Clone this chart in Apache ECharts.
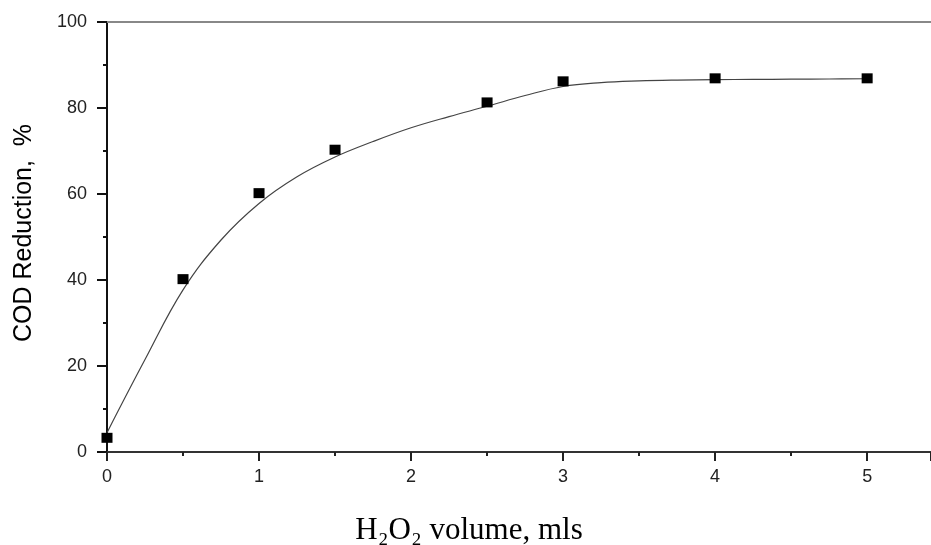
<!DOCTYPE html>
<html>
<head>
<meta charset="utf-8">
<script src="https://cdn.jsdelivr.net/npm/echarts@6/dist/echarts.min.js"></script>
<style>
html,body{margin:0;padding:0;background:#fff;}
#chart{width:931px;height:545px;}
</style>
</head>
<body>
<div id="chart"></div>
<script>
// Measured points
var pointX = [0, 0.5, 1, 1.5, 2.5, 3, 4, 5];
var pointY = [3.3, 40.2, 60.2, 70.3, 81.3, 86.2, 86.9, 86.9];
// Fitted curve
var fitX = [0, 0.25, 0.5, 0.75, 1, 1.25, 1.5, 1.75, 2, 2.25, 2.5, 2.75, 3, 3.25, 3.5, 3.75, 4, 4.25, 4.5, 4.75, 5];
var fitY = [4.5, 21.5, 37.7, 49.3, 57.8, 64.0, 68.6, 72.2, 75.4, 78.0, 80.4, 82.9, 85.0, 85.9, 86.3, 86.5, 86.6, 86.65, 86.7, 86.75, 86.8];
// Axis ticks
var xTicks = [0, 1, 2, 3, 4, 5];
var yTicks = [0, 20, 40, 60, 80, 100];

var xTitle = 'H\u2082O\u2082 volume, mls';
var yTitle = 'COD Reduction,  %';

function pairs(xs, ys) {
  return xs.map(function (x, i) { return [x, ys[i]]; });
}

var chart = echarts.init(document.getElementById('chart'), null, {renderer: 'canvas'});
chart.setOption({
  animation: false,
  backgroundColor: '#fff',
  grid: {left: 107, top: 22, right: 0, bottom: 93, containLabel: false, outerBoundsMode: 'none'},
  xAxis: [{
    type: 'value',
    min: 0,
    max: 5.42,
    interval: 1,
    position: 'bottom',
    name: xTitle,
    nameLocation: 'middle',
    nameGap: 63,
    nameTextStyle: {fontFamily: 'Liberation Serif', fontSize: 31, color: '#000', padding: [0, 100, 0, 0]},
    axisLine: {show: true, onZero: false, lineStyle: {color: '#333', width: 2}},
    axisTick: {show: true, inside: false, length: 9, lineStyle: {color: '#222', width: 2}},
    minorTick: {show: true, splitNumber: 2, length: 4, lineStyle: {color: '#222', width: 2}},
    axisLabel: {
      margin: 16, fontFamily: 'Liberation Sans', fontSize: 18, color: '#222',
      showMaxLabel: false,
      formatter: function (v) { return xTicks.indexOf(v) >= 0 ? String(v) : ''; }
    },
    splitLine: {show: false}
  }, {
    type: 'value',
    min: 0,
    max: 5.42,
    position: 'top',
    axisLine: {show: true, onZero: false, lineStyle: {color: '#888', width: 2}},
    axisTick: {show: false},
    axisLabel: {show: false},
    splitLine: {show: false}
  }],
  yAxis: {
    type: 'value',
    min: 0,
    max: 100,
    interval: 20,
    name: yTitle,
    nameLocation: 'middle',
    nameGap: 70,
    nameTextStyle: {fontFamily: 'Liberation Sans', fontSize: 25, color: '#000', padding: [0, 0, 0, 8]},
    axisLine: {show: true, onZero: false, lineStyle: {color: '#111', width: 2}},
    axisTick: {show: true, inside: false, length: 10, lineStyle: {color: '#111', width: 2}},
    minorTick: {show: true, splitNumber: 2, length: 4, lineStyle: {color: '#111', width: 2}},
    axisLabel: {
      margin: 20, fontFamily: 'Liberation Sans', fontSize: 18, color: '#222',
      formatter: function (v) { return yTicks.indexOf(v) >= 0 ? String(v) : ''; }
    },
    splitLine: {show: false}
  },
  series: [{
    name: 'fit',
    type: 'line',
    data: pairs(fitX, fitY),
    smooth: 0.4,
    showSymbol: false,
    symbol: 'none',
    lineStyle: {color: '#444', width: 1.2},
    z: 2
  }, {
    name: 'COD',
    type: 'scatter',
    data: pairs(pointX, pointY),
    symbol: 'rect',
    symbolSize: [11, 10],
    itemStyle: {color: '#000', opacity: 1},
    z: 3
  }]
});
</script>
</body>
</html>
